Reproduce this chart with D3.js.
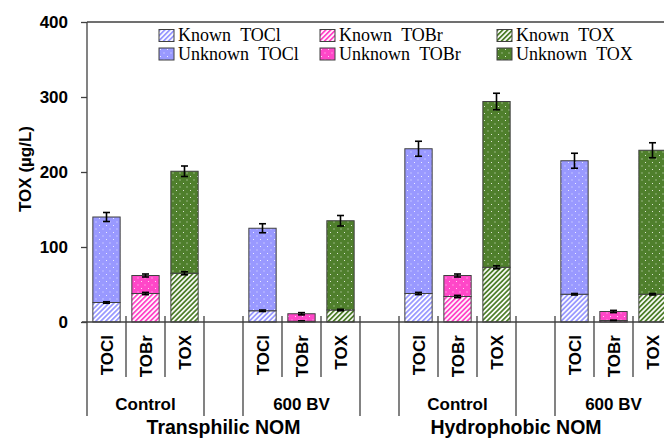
<!DOCTYPE html>
<html>
<head>
<meta charset="utf-8">
<script src="https://cdn.jsdelivr.net/npm/d3@7"></script>
<style>
	body { margin: 0; background: #fff; }
	svg { display: block; overflow: hidden; }
	.axis text { font-family: 'Liberation Sans', Arial, sans-serif; font-weight: bold; font-size: 17px; fill: #000; }
	.legend text { font-family: 'Liberation Serif', 'Times New Roman', serif; font-size: 18px; fill: #000; word-spacing: 5px; }
</style>
</head>
<body>
<script>
// one slot per category, blanks are the spacer slots
var categories = ['TOCl', 'TOBr', 'TOX', '', 'TOCl', 'TOBr', 'TOX', '', 'TOCl', 'TOBr', 'TOX', '', 'TOCl', 'TOBr', 'TOX'];
var knownVals = [26, 38, 65, null, 15, 1, 16, null, 38, 34, 73, null, 37, 2, 37];
var unknownVals = [114, 24, 136, null, 110, 10, 119, null, 193, 28, 221, null, 178, 12, 192];
var knownErr = [1, 1.5, 2, null, 1, 0.5, 1, null, 1.5, 1.5, 2, null, 1, 0.5, 1];
var totalErr = [6, 2, 7, null, 6, 1.5, 7, null, 10, 2, 11, null, 10, 1.5, 10];
var treatments = [
	{ label: 'Control', from: 0, to: 2 },
	{ label: '', from: 3, to: 3 },
	{ label: '600 BV', from: 4, to: 6 },
	{ label: '', from: 7, to: 7 },
	{ label: 'Control', from: 8, to: 10 },
	{ label: '', from: 11, to: 11 },
	{ label: '600 BV', from: 12, to: 14 }
];
var fractions = [
	{ label: 'Transphilic NOM', from: 0, to: 6 },
	{ label: 'Hydrophobic NOM', from: 7, to: 14 }
];
var yTicks = [0, 100, 200, 300, 400];
var species = ['TOCl', 'TOBr', 'TOX'];
var speciesColors = ['#9999ff', '#ff47c8', '#4f7f2c'];
var legendItems = [
	{ label: 'Known TOCl', sp: 'TOCl', kind: 'known' },
	{ label: 'Unknown TOCl', sp: 'TOCl', kind: 'unknown' },
	{ label: 'Known TOBr', sp: 'TOBr', kind: 'known' },
	{ label: 'Unknown TOBr', sp: 'TOBr', kind: 'unknown' },
	{ label: 'Known TOX', sp: 'TOX', kind: 'known' },
	{ label: 'Unknown TOX', sp: 'TOX', kind: 'unknown' }
];

var W = 664, H = 439;
var margin = { top: 22, left: 87 };
var plotBottom = 322;
var plotRight = 672;

var svg = d3.select('body')
	.append('svg')
		.attr('width', W)
		.attr('height', H);

var color = d3.scaleOrdinal().domain(species).range(speciesColors);

// fill patterns: hatch for known, dotted for unknown
var defs = svg.append('defs');
species.forEach(function(sp) {
	var c = color(sp);
	var hatch = defs.append('pattern')
		.attr('id', 'known-' + sp)
		.attr('patternUnits', 'userSpaceOnUse')
		.attr('width', 3.5)
		.attr('height', 3.5)
		.attr('patternTransform', 'rotate(45)');
	hatch.append('rect').attr('width', 3.5).attr('height', 3.5).attr('fill', '#fff');
	hatch.append('rect').attr('width', 1.8).attr('height', 3.5).attr('fill', c);

	var dots = defs.append('pattern')
		.attr('id', 'unknown-' + sp)
		.attr('patternUnits', 'userSpaceOnUse')
		.attr('width', 7)
		.attr('height', 7);
	dots.append('rect').attr('width', 7).attr('height', 7).attr('fill', c);
	dots.append('rect').attr('x', 1).attr('y', 1).attr('width', 1).attr('height', 1).attr('fill', '#fff').attr('opacity', 0.8);
	dots.append('rect').attr('x', 4.5).attr('y', 4.5).attr('width', 1).attr('height', 1).attr('fill', '#fff').attr('opacity', 0.8);
});

var x = d3.scaleBand()
	.domain(d3.range(categories.length))
	.range([margin.left, plotRight])
	.paddingInner(0.3)
	.paddingOuter(0.15);

var y = d3.scaleLinear()
	.domain([0, 400])
	.range([plotBottom, margin.top]);

function slotLeft(i) {
	return x(i) - x.step() * x.paddingInner() / 2;
}
function slotRight(i) {
	return slotLeft(i) + x.step();
}

// top border
svg.append('line')
	.attr('x1', margin.left).attr('x2', plotRight)
	.attr('y1', margin.top).attr('y2', margin.top)
	.attr('stroke', '#404040').attr('stroke-width', 1.3);

// y axis
var yAxis = d3.axisLeft(y)
	.tickValues(yTicks)
	.tickSize(6)
	.tickPadding(13)
	.tickSizeOuter(0);

var gy = svg.append('g')
	.attr('class', 'y axis')
	.attr('transform', 'translate(' + margin.left + ',0)')
	.call(yAxis);
gy.select('.domain').remove();
gy.selectAll('.tick line').attr('stroke', '#404040').attr('stroke-width', 1.3);

gy.append('text')
	.attr('transform', 'translate(' + (25 - margin.left) + ',' + ((margin.top + plotBottom) / 2 - 3) + ') rotate(-90)')
	.attr('text-anchor', 'middle')
	.attr('dy', '0.35em')
	.text('TOX (µg/L)');

// bars
var rows = categories.map(function(c, i) {
	return { i: i, sp: c, known: knownVals[i], unknown: unknownVals[i], kErr: knownErr[i], tErr: totalErr[i] };
}).filter(function(d) { return d.sp !== ''; });

var bars = svg.append('g').attr('class', 'bars');
bars.selectAll('rect.known')
	.data(rows)
	.enter().append('rect')
		.attr('class', 'known')
		.attr('x', function(d) { return x(d.i); })
		.attr('width', x.bandwidth())
		.attr('y', function(d) { return y(d.known); })
		.attr('height', function(d) { return y(0) - y(d.known); })
		.attr('fill', function(d) { return 'url(#known-' + d.sp + ')'; })
		.attr('stroke', '#404040')
		.attr('stroke-width', 1);

bars.selectAll('rect.unknown')
	.data(rows)
	.enter().append('rect')
		.attr('class', 'unknown')
		.attr('x', function(d) { return x(d.i); })
		.attr('width', x.bandwidth())
		.attr('y', function(d) { return y(d.known + d.unknown); })
		.attr('height', function(d) { return y(d.known) - y(d.known + d.unknown); })
		.attr('fill', function(d) { return 'url(#unknown-' + d.sp + ')'; })
		.attr('stroke', '#404040')
		.attr('stroke-width', 1);

// error bars
var errs = [];
rows.forEach(function(d) {
	errs.push({ i: d.i, v: d.known, e: d.kErr });
	errs.push({ i: d.i, v: d.known + d.unknown, e: d.tErr });
});
var capW = 7;
var eg = svg.append('g').attr('class', 'errors')
	.selectAll('g')
	.data(errs)
	.enter().append('g')
		.attr('stroke', '#000')
		.attr('stroke-width', 1.6);
eg.append('line')
	.attr('x1', function(d) { return x(d.i) + x.bandwidth() / 2; })
	.attr('x2', function(d) { return x(d.i) + x.bandwidth() / 2; })
	.attr('y1', function(d) { return y(d.v - d.e); })
	.attr('y2', function(d) { return y(d.v + d.e); });
eg.append('line')
	.attr('x1', function(d) { return x(d.i) + x.bandwidth() / 2 - capW / 2; })
	.attr('x2', function(d) { return x(d.i) + x.bandwidth() / 2 + capW / 2; })
	.attr('y1', function(d) { return y(d.v + d.e); })
	.attr('y2', function(d) { return y(d.v + d.e); });
eg.append('line')
	.attr('x1', function(d) { return x(d.i) + x.bandwidth() / 2 - capW / 2; })
	.attr('x2', function(d) { return x(d.i) + x.bandwidth() / 2 + capW / 2; })
	.attr('y1', function(d) { return y(d.v - d.e); })
	.attr('y2', function(d) { return y(d.v - d.e); });

// x axis and multi-level category labels
var ax = svg.append('g').attr('class', 'x axis');
ax.append('line')
	.attr('x1', margin.left - 5).attr('x2', plotRight)
	.attr('y1', y(0)).attr('y2', y(0))
	.attr('stroke', '#404040').attr('stroke-width', 1.3);
ax.append('line')
	.attr('x1', margin.left).attr('x2', margin.left)
	.attr('y1', margin.top).attr('y2', 416)
	.attr('stroke', '#404040').attr('stroke-width', 1.3);

var shortDiv = [];
treatments.forEach(function(g) {
	for (var i = g.from + 1; i <= g.to; i++) shortDiv.push(slotLeft(i));
});
ax.selectAll('line.short')
	.data(shortDiv)
	.enter().append('line')
		.attr('x1', function(d) { return d; }).attr('x2', function(d) { return d; })
		.attr('y1', y(0) - 6).attr('y2', 377)
		.attr('stroke', '#404040').attr('stroke-width', 1.3);

var longDiv = treatments.slice(1).map(function(g) { return slotLeft(g.from); });
longDiv.push(slotRight(categories.length - 1));
ax.selectAll('line.long')
	.data(longDiv)
	.enter().append('line')
		.attr('x1', function(d) { return d; }).attr('x2', function(d) { return d; })
		.attr('y1', y(0) - 6).attr('y2', 416)
		.attr('stroke', '#404040').attr('stroke-width', 1.3);

ax.selectAll('text.cat1')
	.data(rows)
	.enter().append('text')
		.style('font-size', '17px')
		.attr('text-anchor', 'end')
		.attr('transform', function(d) { return 'translate(' + (x(d.i) + x.bandwidth() / 2 + 6) + ',335) rotate(-90)'; })
		.text(function(d) { return d.sp; });

ax.selectAll('text.cat2')
	.data(treatments.filter(function(g) { return g.label !== ''; }))
	.enter().append('text')
		.style('font-size', '17px')
		.attr('text-anchor', 'middle')
		.attr('x', function(g) { return (slotLeft(g.from) + slotRight(g.to)) / 2; })
		.attr('y', 410)
		.text(function(g) { return g.label; });

ax.selectAll('text.cat3')
	.data(fractions)
	.enter().append('text')
		.style('font-size', '19.5px')
		.attr('text-anchor', 'middle')
		.attr('x', function(g) { return (slotLeft(g.from) + slotRight(g.to)) / 2; })
		.attr('y', 434)
		.text(function(g) { return g.label; });

// legend
var legendCols = [159, 320, 497];
var legend = svg.append('g').attr('class', 'legend')
	.selectAll('g')
	.data(legendItems)
	.enter().append('g')
		.attr('transform', function(d, k) {
			return 'translate(' + legendCols[Math.floor(k / 2)] + ',' + (29.5 + (k % 2) * 18.5) + ')';
		});
legend.append('rect')
	.attr('width', 15)
	.attr('height', 12)
	.attr('fill', function(d) { return 'url(#' + d.kind + '-' + d.sp + ')'; })
	.attr('stroke', '#404040')
	.attr('stroke-width', 1);
legend.append('text')
	.attr('x', 19)
	.attr('y', 11.5)
	.text(function(d) { return d.label; });
</script>
</body>
</html>
